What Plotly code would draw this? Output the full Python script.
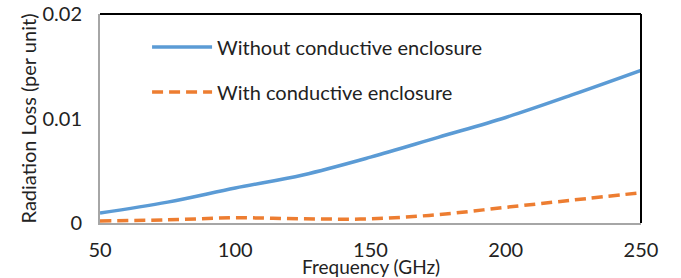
import plotly.graph_objects as go

freq = [50, 75, 100, 125, 150, 175, 200, 225, 250]
without_enc = [0.00096, 0.0020, 0.00335, 0.0046, 0.0063, 0.0082, 0.0101, 0.0123, 0.0146]
with_enc = [0.0002, 0.0003, 0.0005, 0.0004, 0.0004, 0.0008, 0.0015, 0.0022, 0.0029]
names = ["Without conductive enclosure", "With conductive enclosure"]

FONT = "Lato, Open Sans, sans-serif"

fig = go.Figure()
fig.add_trace(go.Scatter(x=freq, y=without_enc, mode="lines", name=names[0], legendgroup="a",
                         line=dict(color="#5B9BD5", width=3.5, shape="spline")))
fig.add_trace(go.Scatter(x=freq, y=with_enc, mode="lines", name=names[1], legendgroup="b",
                         line=dict(color="#ED7D31", width=3.5, dash="11px,6px", shape="spline")))

fig.update_layout(
    width=681, height=278, autosize=False,
    margin=dict(l=100, r=40, t=14, b=55, autoexpand=False),
    paper_bgcolor="white", plot_bgcolor="white",
    font=dict(family=FONT, size=20, color="#222222"),
    legend=dict(x=0.087, y=0.935, xanchor="left", yanchor="top",
                bgcolor="rgba(0,0,0,0)", tracegroupgap=16,
                font=dict(size=20, family=FONT), itemwidth=60),
    xaxis=dict(range=[50, 250], tickvals=[50, 100, 150, 200, 250], showgrid=False,
               zeroline=False, showline=True, linecolor="#A6A6A6", linewidth=2,
               ticks="", ticklen=0, automargin=False, ticklabelstandoff=8,
               ticklabeloverflow="allow"),
    yaxis=dict(range=[0, 0.02], tickvals=[0, 0.01, 0.02], ticktext=["0", "0.01", "0.02"],
               showgrid=False, zeroline=False, showline=True, linecolor="#A6A6A6", linewidth=2,
               ticks="", ticklen=0, automargin=False, ticklabelstandoff=12,
               ticklabeloverflow="allow",
               title=dict(text="Radiation Loss (per unit)", standoff=0, font=dict(size=20))),
    annotations=[
        dict(text="Frequency (GHz)", xref="paper", yref="paper", x=0.5, y=0,
             xanchor="center", yanchor="middle", yshift=-43, showarrow=False,
             font=dict(size=19, family=FONT, color="#222222")),
    ],
    shapes=[
        dict(type="line", xref="paper", yref="paper", x0=0, x1=1, y0=1, y1=1,
             line=dict(color="black", width=2)),
        dict(type="line", xref="paper", yref="paper", x0=1, x1=1, y0=0, y1=1,
             line=dict(color="black", width=2)),
    ],
)

fig.write_html("out.html", config={"displayModeBar": False},
               post_script="document.body.style.margin='0';document.body.style.overflow='hidden';")
